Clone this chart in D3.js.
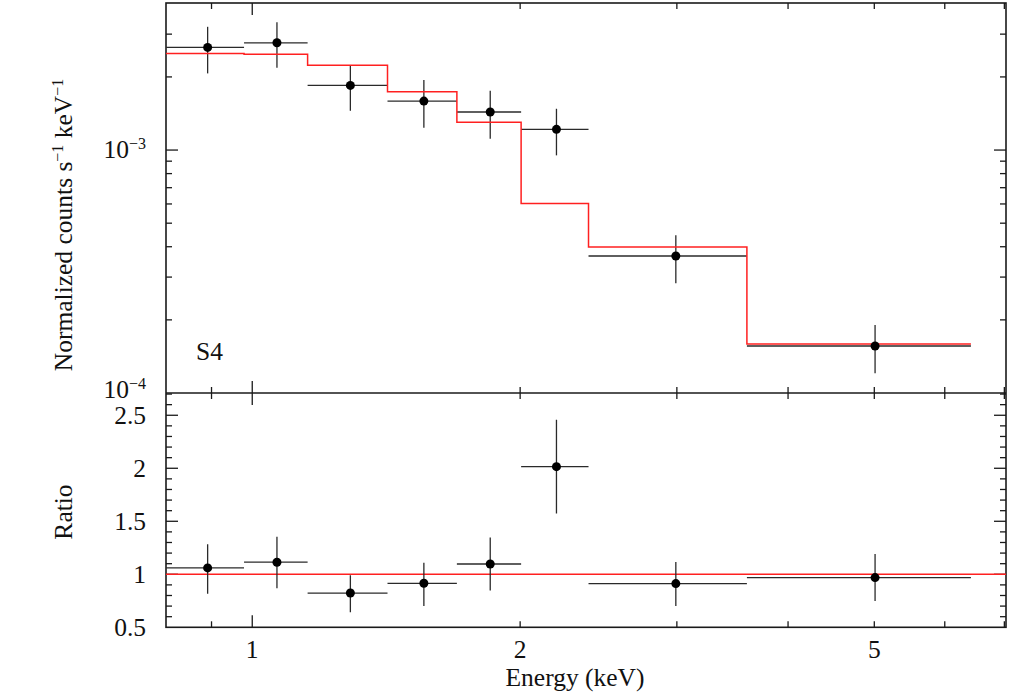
<!DOCTYPE html>
<html>
<head>
<meta charset="utf-8">
<script src="https://cdn.jsdelivr.net/npm/d3@7"></script>
<style>
  html, body { margin: 0; padding: 0; background: #fff; }
  svg { display: block; }
  text { font-family: "Liberation Serif", "Times New Roman", serif; fill: #111; }
</style>
</head>
<body>
<svg id="chart" width="1009" height="692"></svg>
<script>
// ---------------- data ----------------
const binLo    = [0.80, 0.979, 1.154, 1.419, 1.698, 2.005, 2.387, 3.596];
const binHi    = [0.979, 1.154, 1.419, 1.698, 2.005, 2.387, 3.596, 6.42];
const energy   = [0.891, 1.066, 1.289, 1.559, 1.851, 2.197, 2.992, 5.01];
const counts   = [2.646e-3, 2.764e-3, 1.846e-3, 1.591e-3, 1.434e-3, 1.217e-3, 3.664e-4, 1.561e-4];
const countsHi = [3.216e-3, 3.354e-3, 2.238e-3, 1.941e-3, 1.754e-3, 1.479e-3, 4.457e-4, 1.905e-4];
const countsLo = [2.068e-3, 2.182e-3, 1.451e-3, 1.235e-3, 1.113e-3, 0.951e-3, 2.828e-4, 1.205e-4];
const model    = [2.50e-3, 2.477e-3, 2.232e-3, 1.738e-3, 1.300e-3, 6.03e-4, 3.99e-4, 1.59e-4];
const ratio    = [1.06, 1.114, 0.823, 0.915, 1.097, 2.015, 0.912, 0.969];
const ratioHi  = [1.284, 1.353, 0.99, 1.11, 1.347, 2.457, 1.116, 1.192];
const ratioLo  = [0.817, 0.868, 0.643, 0.70, 0.846, 1.574, 0.70, 0.747];
const ratioModel = 1;

const xMajorTicks = [1];
const xMinorTicks = [0.9, 2, 3, 4, 5, 6, 7];
const xTickLabels = [1, 2, 5];
const yTopMajorTicks = [1e-4, 1e-3];
const yTopMinorTicks = [2e-4, 3e-4, 4e-4, 5e-4, 6e-4, 7e-4, 8e-4, 9e-4, 2e-3, 3e-3];
const yTopLabels = [{v: 1e-3, exp: "−3", dy: 8}, {v: 1e-4, exp: "−4", dy: 5}];
const yRatioMajor = [0.5, 1, 1.5, 2, 2.5];
const yRatioMinor = [0.6, 0.7, 0.8, 0.9, 1.1, 1.2, 1.3, 1.4, 1.6, 1.7, 1.8, 1.9, 2.1, 2.2, 2.3, 2.4, 2.6, 2.7];
const yRatioLabels = ["0.5", "1", "1.5", "2", "2.5"];

// ---------------- layout ----------------
const L = 166, R = 1006, T = 3, M = 393, B = 627.3;
const x = d3.scaleLog().domain([0.80, 7.03]).range([L, R]);
const yTop = d3.scaleLog().domain([1e-4, 4.03e-3]).range([M, T]);
const yRat = d3.scaleLinear().domain([0.5, 2.71]).range([B, M]);

const svg = d3.select("#chart");
const ink = "#1a1a1a";
const MAJ = 12, MIN = 6;

svg.append("clipPath").attr("id", "clipTop")
  .append("rect").attr("x", L).attr("y", T).attr("width", R - L).attr("height", M - T);
svg.append("clipPath").attr("id", "clipRat")
  .append("rect").attr("x", L).attr("y", M).attr("width", R - L).attr("height", B - M);

// ---------------- ticks ----------------
const tickG = svg.append("g").attr("stroke", ink).attr("stroke-width", 1.3);
function xTicks(vals, len) {
  vals.forEach(v => {
    const px = x(v);
    tickG.append("line").attr("x1", px).attr("x2", px).attr("y1", T).attr("y2", T + len);
    tickG.append("line").attr("x1", px).attr("x2", px).attr("y1", M - len).attr("y2", M + len);
    tickG.append("line").attr("x1", px).attr("x2", px).attr("y1", B - len).attr("y2", B);
  });
}
xTicks(xMajorTicks, MAJ);
xTicks(xMinorTicks, MIN);

function yTicks(vals, scale, len) {
  vals.forEach(v => {
    const py = scale(v);
    tickG.append("line").attr("x1", L).attr("x2", L + len).attr("y1", py).attr("y2", py);
    tickG.append("line").attr("x1", R - len).attr("x2", R).attr("y1", py).attr("y2", py);
  });
}
yTicks(yTopMajorTicks.filter(v => v > 1e-4), yTop, MAJ);
yTicks(yTopMinorTicks, yTop, MIN);
yTicks(yRatioMajor.filter(v => v > 0.5), yRat, MAJ);
yTicks(yRatioMinor, yRat, MIN);

// ---------------- frame ----------------
svg.append("rect").attr("x", L).attr("y", T).attr("width", R - L).attr("height", B - T)
  .attr("fill", "none").attr("stroke", ink).attr("stroke-width", 1.6);
svg.append("line").attr("x1", L).attr("x2", R).attr("y1", M).attr("y2", M)
  .attr("stroke", ink).attr("stroke-width", 1.6);

// ---------------- upper panel ----------------
const gTop = svg.append("g").attr("clip-path", "url(#clipTop)");
const eb = gTop.append("g").attr("stroke", "#2a2a2a").attr("stroke-width", 1.3);
counts.forEach((c, i) => {
  eb.append("line").attr("x1", x(binLo[i])).attr("x2", x(binHi[i])).attr("y1", yTop(c)).attr("y2", yTop(c));
  eb.append("line").attr("x1", x(energy[i])).attr("x2", x(energy[i])).attr("y1", yTop(countsLo[i])).attr("y2", yTop(countsHi[i]));
});
const stepPts = [];
model.forEach((m, i) => { stepPts.push([binLo[i], m]); stepPts.push([binHi[i], m]); });
gTop.append("path")
  .attr("d", d3.line().x(d => x(d[0])).y(d => yTop(d[1]))(stepPts))
  .attr("fill", "none").attr("stroke", "#ff2020").attr("stroke-width", 1.5);
gTop.append("g").selectAll("circle").data(counts).join("circle")
  .attr("cx", (d, i) => x(energy[i])).attr("cy", d => yTop(d)).attr("r", 4.5).attr("fill", "#000");

// ---------------- ratio panel ----------------
const gRat = svg.append("g").attr("clip-path", "url(#clipRat)");
gRat.append("line").attr("x1", L).attr("x2", R).attr("y1", yRat(ratioModel)).attr("y2", yRat(ratioModel))
  .attr("stroke", "#ff2020").attr("stroke-width", 1.5);
const eb2 = gRat.append("g").attr("stroke", "#2a2a2a").attr("stroke-width", 1.3);
ratio.forEach((r, i) => {
  eb2.append("line").attr("x1", x(binLo[i])).attr("x2", x(binHi[i])).attr("y1", yRat(r)).attr("y2", yRat(r));
  eb2.append("line").attr("x1", x(energy[i])).attr("x2", x(energy[i])).attr("y1", yRat(ratioLo[i])).attr("y2", yRat(ratioHi[i]));
});
gRat.append("g").selectAll("circle").data(ratio).join("circle")
  .attr("cx", (d, i) => x(energy[i])).attr("cy", d => yRat(d)).attr("r", 4.5).attr("fill", "#000");

// ---------------- labels ----------------
const FS = 25.5, SUP = 16;
xTickLabels.forEach(v => {
  svg.append("text").attr("x", x(v)).attr("y", 658).attr("text-anchor", "middle")
    .attr("font-size", FS).text(v);
});
yTopLabels.forEach(o => {
  const t = svg.append("text").attr("x", 146).attr("y", yTop(o.v) + o.dy).attr("text-anchor", "end")
    .attr("font-size", FS);
  t.append("tspan").text("10");
  t.append("tspan").attr("dy", -9).attr("font-size", SUP).text(o.exp);
});
yRatioMajor.forEach((v, i) => {
  svg.append("text").attr("x", 146).attr("y", yRat(v) + 8.5).attr("text-anchor", "end")
    .attr("font-size", FS).text(yRatioLabels[i]);
});
const yt = svg.append("text").attr("transform", "translate(72,225) rotate(-90)")
  .attr("text-anchor", "middle").attr("font-size", FS);
yt.append("tspan").text("Normalized counts s");
yt.append("tspan").attr("dy", -9).attr("font-size", SUP).text("−1");
yt.append("tspan").attr("dy", 9).text(" keV");
yt.append("tspan").attr("dy", -9).attr("font-size", SUP).text("−1");

svg.append("text").attr("transform", "translate(72,512) rotate(-90)")
  .attr("text-anchor", "middle").attr("font-size", FS).text("Ratio");

svg.append("text").attr("x", 575).attr("y", 686).attr("text-anchor", "middle")
  .attr("font-size", FS).text("Energy (keV)");

svg.append("text").attr("x", 196).attr("y", 360).attr("font-size", FS).text("S4");
</script>
</body>
</html>
